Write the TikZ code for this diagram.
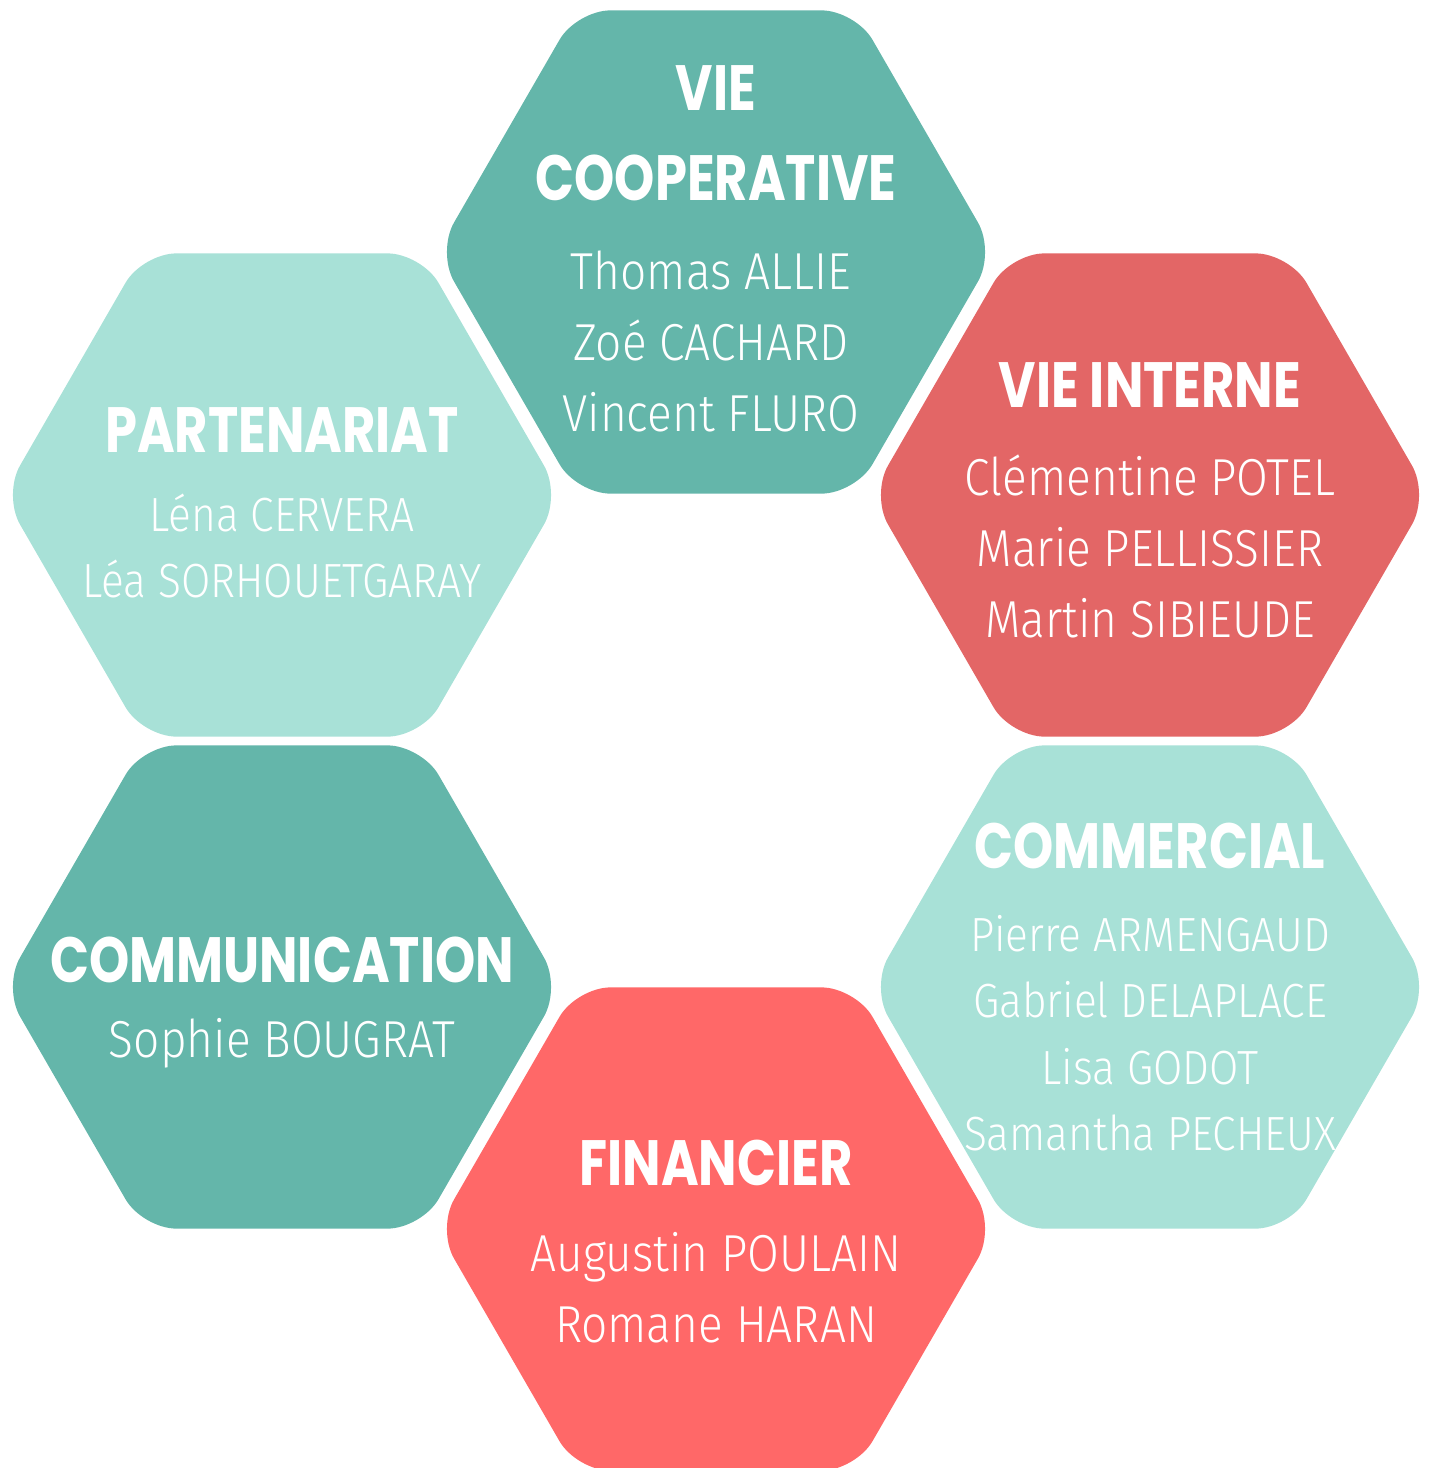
\documentclass[tikz,border=0pt]{standalone}
\usepackage{fontspec}
\usetikzlibrary{shapes.geometric}
\newfontfamily\titlefont[FakeStretch=0.8]{Poppins Bold}
\newfontfamily\namefont[FakeStretch=0.885]{Fira Sans Light}
\definecolor{tealdark}{HTML}{64B6AA}
\definecolor{teallight}{HTML}{A8E1D7}
\definecolor{redpole}{HTML}{E36666}
\definecolor{coralpole}{HTML}{FF6868}
\tikzset{
hexa/.style={ % one pole of the honeycomb
regular polygon,
regular polygon sides=6,
minimum size=558pt,
inner sep=0pt,
rounded corners=34pt},
titre/.style={text=white, align=center,
font=\titlefont\fontsize{64}{90}\selectfont},
noms/.style={text=white, align=center,
font=\namefont\fontsize{52}{71}\selectfont},
petitsnoms/.style={noms, % lighter hexagons use smaller names
font=\namefont\fontsize{48}{66.5}\selectfont}}

\begin{document}
\begin{tikzpicture}[x=1pt, y=-1pt]
\useasboundingbox (0,0) rectangle (1429,1468);
\clip (0,0) rectangle (1429,1468);
% hexagons
\node[hexa, fill=tealdark] (coop) at (716,252) {};
\node[hexa, fill=teallight] (part) at (282,495) {};
\node[hexa, fill=redpole] (interne) at (1150,495) {};
\node[hexa, fill=tealdark] (comm) at (282,987) {};
\node[hexa, fill=teallight] (commercial) at (1150,987) {};
\node[hexa, fill=coralpole] (fin) at (716,1229) {};
% titles and names
\node[titre] (coop-t) at (716,133) {VIE\\COOPERATIVE};
\node[noms] (coop-n) at (711,341) {Thomas ALLIE\\Zoé CACHARD\\Vincent FLURO};
\node[titre] (part-t) at (282,430) {PARTENARIAT};
\node[petitsnoms] (part-n) at (282,546) {Léna CERVERA\\Léa SORHOUETGARAY};
\node[titre] (interne-t) at (1150,385) {VIE INTERNE};
\node[noms] (interne-n) at (1150,546) {Clémentine POTEL\\Marie PELLISSIER\\Martin SIBIEUDE};
\node[titre] (comm-t) at (282,960) {COMMUNICATION};
\node[noms] (comm-n) at (282,1043) {Sophie BOUGRAT};
\node[titre] (commercial-t) at (1150,846) {COMMERCIAL};
\node[petitsnoms] (commercial-n) at (1150,1033) {Pierre ARMENGAUD\\Gabriel DELAPLACE\\Lisa GODOT\\Samantha PECHEUX};
\node[titre] (fin-t) at (716,1163) {FINANCIER};
\node[noms] (fin-n) at (716,1288) {Augustin POULAIN\\Romane HARAN};
\end{tikzpicture}
\end{document}
